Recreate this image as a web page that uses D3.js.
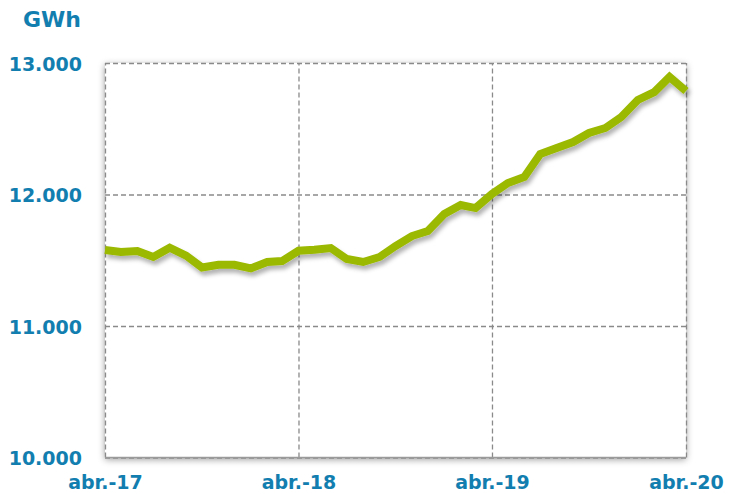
<!DOCTYPE html>
<html><head><meta charset="utf-8">
<script src="https://cdn.jsdelivr.net/npm/d3@7"></script>
<style>
html,body{margin:0;padding:0;background:#fff;}
svg{display:block;}
</style></head>
<body>
<script>
// Monthly consumption (GWh), abr.-2017 .. abr.-2020
const startDate = new Date(2017, 3, 1);
const endDate = new Date(2020, 3, 1);
const values = [
 11578, 11563, 11570, 11525, 11595, 11535, 11445, 11465, 11465, 11438, 11487, 11494,
 11572, 11580, 11593, 11510, 11487, 11525, 11608, 11684, 11722, 11852, 11920, 11897,
 12004, 12087, 12133, 12308, 12354, 12399, 12468, 12506, 12589, 12719, 12779, 12894,
 12787
];
const yTicks = [10000, 11000, 12000, 13000];
const yTickLabels = ["10.000", "11.000", "12.000", "13.000"];
const xTickDates = [new Date(2017,3,1), new Date(2018,3,1), new Date(2019,3,1), new Date(2020,3,1)];
const xTickLabels = ["abr.-17", "abr.-18", "abr.-19", "abr.-20"];
const unitLabel = "GWh";

const W = 729, H = 494;
const L = 105, R = 686, T = 63, B = 457.5;
const blue = "#127eb0";
const green = "#9ab900";
const font = "'DejaVu Sans', Verdana, sans-serif";

const dates = d3.timeMonth.range(startDate, d3.timeMonth.offset(endDate, 1));
const data = dates.map((d, i) => ({date: d, v: values[i]}));

const x = d3.scaleTime().domain([startDate, endDate]).range([L, R]);
const y = d3.scaleLinear().domain([10000, 13000]).range([B, T]);

const svg = d3.select("body").append("svg").attr("width", W).attr("height", H);
const defs = svg.append("defs");
const f1 = defs.append("filter").attr("id", "boxShadow").attr("x", "-10%").attr("y", "-10%").attr("width", "120%").attr("height", "120%");
f1.append("feDropShadow").attr("dx", 0).attr("dy", 2).attr("stdDeviation", 3.5).attr("flood-color", "#000").attr("flood-opacity", 0.4);
const f2 = defs.append("filter").attr("id", "lineShadow").attr("x", "-10%").attr("y", "-20%").attr("width", "120%").attr("height", "140%");
f2.append("feDropShadow").attr("dx", 2).attr("dy", 4).attr("stdDeviation", 2).attr("flood-color", "#000").attr("flood-opacity", 0.3);

// plot background with shadow
svg.append("rect").attr("x", L).attr("y", T).attr("width", R - L).attr("height", B - T)
  .attr("fill", "#fff").attr("filter", "url(#boxShadow)");

// gridlines via axes
const gridY = svg.append("g").attr("transform", `translate(${L},0)`)
  .call(d3.axisLeft(y).tickValues(yTicks).tickSize(-(R - L)).tickFormat(""));
gridY.select(".domain").remove();
gridY.selectAll("line").attr("stroke", "#8a8a8a").attr("stroke-width", 1.3).attr("stroke-dasharray", "5,3");

const gridX = svg.append("g").attr("transform", `translate(0,${B})`)
  .call(d3.axisBottom(x).tickValues(xTickDates).tickSize(-(B - T)).tickFormat(""));
gridX.select(".domain").remove();
gridX.selectAll("line").attr("stroke", "#8a8a8a").attr("stroke-width", 1.3).attr("stroke-dasharray", "5,3");

// bottom solid axis line
svg.append("line").attr("x1", L).attr("x2", R).attr("y1", B).attr("y2", B)
  .attr("stroke", "#9a9a9a").attr("stroke-width", 1.5);

// line
const line = d3.line().x(d => x(d.date)).y(d => y(d.v));
svg.append("path").datum(data).attr("d", line)
  .attr("fill", "none").attr("stroke", green).attr("stroke-width", 8)
  .attr("stroke-linejoin", "miter").attr("stroke-miterlimit", 3)
  .attr("filter", "url(#lineShadow)");

// y labels
const yAx = svg.append("g").attr("transform", `translate(${L - 20},0)`)
  .call(d3.axisLeft(y).tickValues(yTicks).tickSize(0).tickFormat((d, i) => yTickLabels[i]));
yAx.select(".domain").remove();
yAx.selectAll("text").attr("font-family", font).attr("font-weight", "bold")
  .attr("font-size", 19).attr("fill", blue).attr("dx", 0).attr("dy", "0.38em");

// x labels
const xAx = svg.append("g").attr("transform", `translate(0,${B + 15})`)
  .call(d3.axisBottom(x).tickValues(xTickDates).tickSize(0).tickFormat((d, i) => xTickLabels[i]));
xAx.select(".domain").remove();
xAx.selectAll("text").attr("font-family", font).attr("font-weight", "bold")
  .attr("font-size", 19).attr("fill", blue).attr("dy", "0.71em");

// unit label
svg.append("text").attr("x", 52).attr("y", 27).attr("text-anchor", "middle")
  .attr("font-family", font).attr("font-weight", "bold").attr("font-size", 22)
  .attr("fill", blue).text(unitLabel);
</script>
</body></html>
